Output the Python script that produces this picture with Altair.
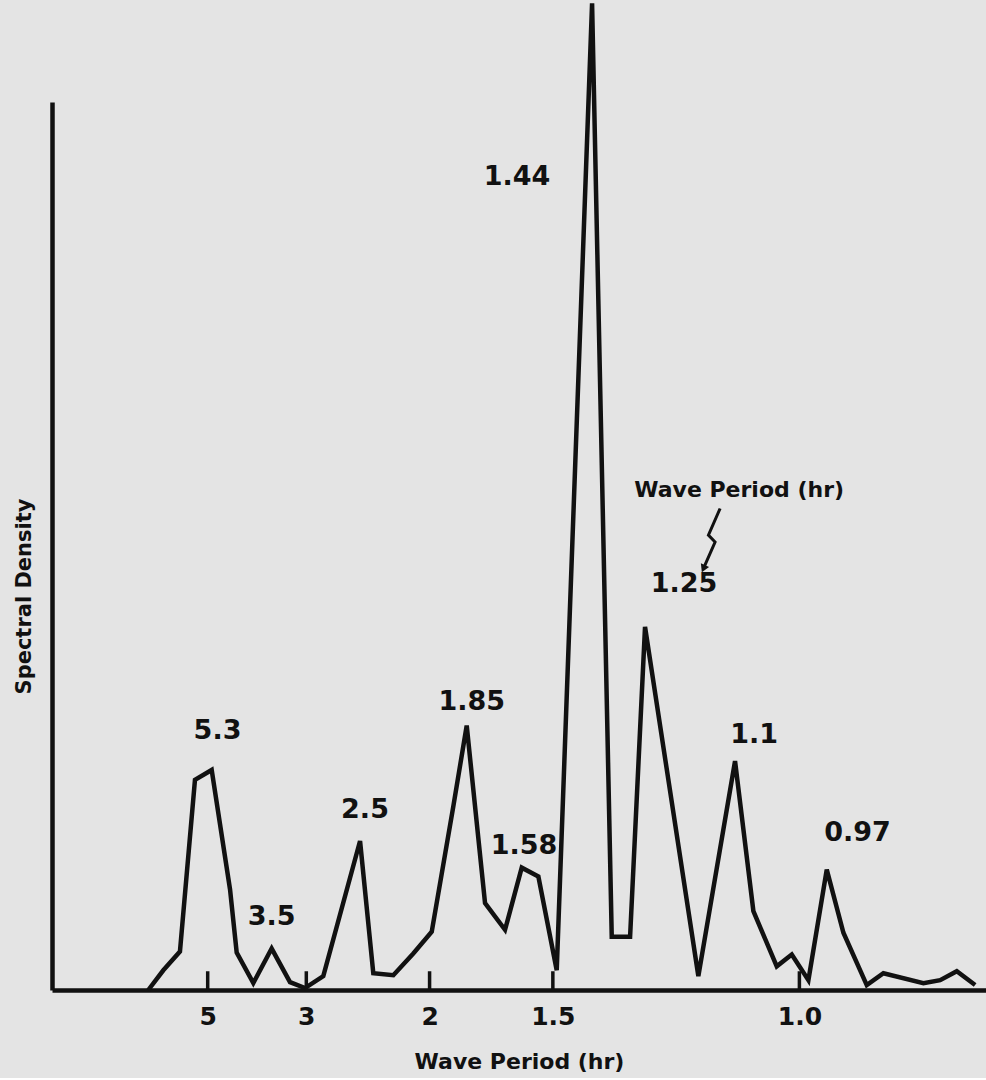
import altair as alt
import pandas as pd

# Spectral density curve (x = frequency 1/period in cycles/hr, y = relative density)
freq = [0.1197, 0.140, 0.1625, 0.1828, 0.2054, 0.2302, 0.2392, 0.2617, 0.2865, 0.3113,
        0.3316, 0.3563, 0.4060, 0.4239, 0.4510, 0.4780, 0.5029, 0.5321, 0.5502, 0.5750,
        0.6020, 0.6246, 0.6471, 0.6719, 0.7197, 0.7463, 0.7711, 0.7913, 0.8634, 0.9130,
        0.9378, 0.9694, 0.9897, 1.0122, 1.0370, 1.0595, 1.0911, 1.1136, 1.1677, 1.1903,
        1.2128, 1.2376]
density = [0, 2.0, 3.9, 21.3, 22.3, 10.2, 3.8, 0.7, 4.2, 0.8,
           0.2, 1.4, 15.1, 1.7, 1.5, 3.7, 5.9, 18.6, 26.8, 8.8,
           6.1, 12.4, 11.5, 2.0, 100, 5.4, 5.4, 36.8, 1.4, 23.2,
           8.0, 2.4, 3.6, 1.0, 12.2, 5.8, 0.5, 1.7, 0.7, 1.0,
           1.9, 0.5]

# Axis ticks (wave period in hours)
tick_periods = [5, 3, 2, 1.5, 1.0]
tick_labels = ["5", "3", "2", "1.5", "1.0"]
tick_freqs = [1.0 / p for p in tick_periods]

# Peak annotations
peak_text = ["5.3", "3.5", "2.5", "1.85", "1.58", "1.44", "1.25", "1.1", "0.97"]
peak_x = [0.2133, 0.2865, 0.4127, 0.5570, 0.6277, 0.6183, 0.8441, 0.9388, 1.0787]
peak_y = [26.3, 7.4, 18.2, 29.2, 14.6, 82.4, 41.1, 25.8, 15.9]

# "Wave Period (hr)" callout and its zig-zag arrow
callout_text = ["Wave Period (hr)"]
callout_x = [0.9185]
callout_y = [50.7]
arrow_x = [0.8928, 0.8770, 0.8860, 0.8702]
arrow_y = [48.8, 46.1, 45.4, 42.7]

XDOM = [-0.0105, 1.2523]
YDOM = [0, 90]
INK = "#111111"
FONT = "DejaVu Sans"

xs = alt.Scale(domain=XDOM, nice=False, zero=False)
ys = alt.Scale(domain=YDOM, nice=False, zero=False)

label_expr = " : ".join(
    f"abs(datum.value - {f}) < 0.001 ? '{l}'" for f, l in zip(tick_freqs, tick_labels)
) + " : ''"

curve_df = pd.DataFrame({"f": freq, "d": density})
curve = alt.Chart(curve_df).mark_line(
    color=INK, strokeWidth=4.5, strokeJoin="miter", clip=False
).encode(
    x=alt.X("f:Q", scale=xs, axis=alt.Axis(
        values=tick_freqs, labelExpr=label_expr, ticks=False, grid=False,
        domain=True, domainColor=INK, domainWidth=4.5,
        labelFont=FONT, labelFontWeight="bold", labelFontSize=25, labelColor=INK,
        labelPadding=14, labelFlush=False, labelOverlap=False,
        title="Wave Period (hr)", titleFont=FONT, titleFontWeight="bold",
        titleFontSize=22, titleColor=INK, titlePadding=22)),
    y=alt.Y("d:Q", scale=ys, axis=alt.Axis(
        labels=False, ticks=False, grid=False, domain=True,
        domainColor=INK, domainWidth=4.5,
        title="Spectral Density", titleFont=FONT, titleFontWeight="bold",
        titleFontSize=21, titleColor=INK, titleAngle=270,
        titleAlign="center", titleBaseline="middle", titleX=-28, titleY=494)),
)

tick_df = pd.DataFrame({"f": tick_freqs})
ticks = alt.Chart(tick_df).mark_rule(color=INK, strokeWidth=3.5).encode(
    x=alt.X("f:Q", scale=xs),
    y=alt.datum(0),
    y2=alt.datum(1.9),
)

peaks_df = pd.DataFrame({"t": peak_text, "f": peak_x, "d": peak_y})
peaks = alt.Chart(peaks_df).mark_text(
    font=FONT, fontWeight="bold", fontSize=27, color=INK,
    align="center", baseline="middle"
).encode(x=alt.X("f:Q", scale=xs), y=alt.Y("d:Q", scale=ys), text="t:N")

callout_df = pd.DataFrame({"t": callout_text, "f": callout_x, "d": callout_y})
callout = alt.Chart(callout_df).mark_text(
    font=FONT, fontWeight="bold", fontSize=22, color=INK,
    align="center", baseline="middle"
).encode(x=alt.X("f:Q", scale=xs), y=alt.Y("d:Q", scale=ys), text="t:N")

arrow_df = pd.DataFrame({"i": list(range(len(arrow_x))), "f": arrow_x, "d": arrow_y})
arrow = alt.Chart(arrow_df).mark_line(color=INK, strokeWidth=3).encode(
    x=alt.X("f:Q", scale=xs), y=alt.Y("d:Q", scale=ys), order="i:Q"
)
head = alt.Chart(arrow_df.tail(1)).mark_point(
    shape="triangle-up", filled=True, color=INK, size=80, angle=204, opacity=1
).encode(x=alt.X("f:Q", scale=xs), y=alt.Y("d:Q", scale=ys))

chart = alt.layer(curve, ticks, peaks, callout, arrow, head).properties(
    width=934, height=888,
    padding={"left": 52, "top": 102, "right": 0, "bottom": 88},
    autosize=alt.AutoSizeParams(type="none"),
    background="#e4e4e4",
).configure_view(stroke=None)

chart.save("out.html", embed_options={"renderer": "svg", "actions": False})
